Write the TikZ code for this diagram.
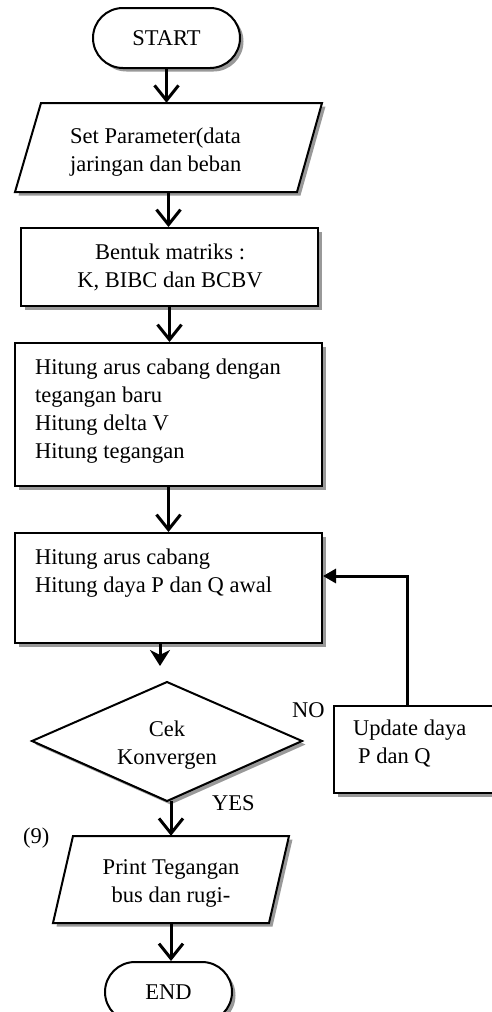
\documentclass[tikz,border=0pt]{standalone}
\usepackage{fontspec}
\setmainfont{Liberation Serif}
\usetikzlibrary{arrows.meta}
\begin{document}
\begin{tikzpicture}[x=1pt,y=-1pt,
  font=\fontsize{22.5}{28}\selectfont,
  shad/.style={preaction={fill=black!40,transform canvas={xshift=3.5pt,yshift=-3.5pt}}},
  box/.style={draw,line width=2pt,fill=white,shad,inner sep=0pt,rectangle},
  term/.style={box,rounded corners=30pt},
  shapeline/.style={draw,line width=2pt,fill=white,shad},
  ghost/.style={inner sep=0pt,rectangle},
  txt/.style={inner sep=0pt},
  arr/.style={line width=3pt,-{Straight Barb[length=15pt,width=24pt,line width=3pt]}},
  arrfill/.style={line width=3pt,-{Stealth[length=16pt,width=20pt,inset=5pt]}},
  fb/.style={line width=3pt,-{Triangle[length=13pt,width=14pt]}}
]
\useasboundingbox (0,0) rectangle (492,1012);

% START
\node[term,minimum width=147pt,minimum height=60pt] (start) at (166.5,38) {START};

% Input parallelogram
\path[shapeline] (41,103) -- (322,103) -- (297,192) -- (15,192) -- cycle;
\node[ghost,minimum width=282pt,minimum height=89pt] (p1) at (168.5,147.5) {};
\node[txt,anchor=base west] (p1t) at (70,143)
  {\begin{tabular}[t]{@{}l@{}}Set Parameter(data\\jaringan dan beban\end{tabular}};

% Bentuk matriks
\node[box,minimum width=297pt,minimum height=78pt] (r1) at (169.5,267) {};
\node[txt,anchor=base] (r1t) at (170,259)
  {\begin{tabular}[t]{@{}c@{}}Bentuk matriks :\\K, BIBC dan BCBV\end{tabular}};

% Hitung arus cabang dengan tegangan baru
\node[box,minimum width=307pt,minimum height=143pt] (r2) at (168.5,414.5) {};
\node[txt,anchor=base west] (r2t) at (35,374)
  {\begin{tabular}[t]{@{}l@{}}Hitung arus cabang dengan\\tegangan baru\\Hitung delta V\\Hitung tegangan\end{tabular}};

% Hitung arus cabang / daya
\node[box,minimum width=307pt,minimum height=110pt] (r3) at (168.5,588) {};
\node[txt,anchor=base west] (r3t) at (35,564)
  {\begin{tabular}[t]{@{}l@{}}Hitung arus cabang\\Hitung daya P dan Q awal\end{tabular}};

% Decision
\path[shapeline] (32,741) -- (167,682) -- (302,741) -- (167,801) -- cycle;
\node[ghost,minimum width=270pt,minimum height=119pt] (dia) at (167,741.5) {};
\node[txt,anchor=base] (diat) at (167,736)
  {\begin{tabular}[t]{@{}c@{}}Cek\\Konvergen\end{tabular}};

% Update box (runs past right edge)
\node[box,minimum width=200pt,minimum height=87pt,anchor=north west] (upd) at (333,705) {};
\node[txt,anchor=base west] (updt) at (353,735)
  {\begin{tabular}[t]{@{}l@{}}Update daya\\\hspace*{5pt}P dan Q\end{tabular}};

% Labels
\node[txt,anchor=base west] (no) at (292,717) {NO};
\node[txt,anchor=base west] (yes) at (212,810) {YES};
\node[txt,anchor=base west] (nine) at (23,843) {(9)};

% Output parallelogram
\path[shapeline] (73,836) -- (289,836) -- (269,923) -- (53,923) -- cycle;
\node[ghost,minimum width=216pt,minimum height=87pt] (p2) at (171,879.5) {};
\node[txt,anchor=base] (p2t) at (171,874)
  {\begin{tabular}[t]{@{}c@{}}Print Tegangan\\bus dan rugi-\end{tabular}};

% END
\node[term,minimum width=127pt,minimum height=60pt] (end) at (168.5,992) {END};

% Connectors
\draw[arr] (start.south) -- (start.south |- p1.north);
\draw[arr] (p1.south) -- (p1.south |- r1.north);
\draw[arr] (r1.south) -- (r1.south |- r2.north);
\draw[arr] (r2.south) -- (r2.south |- r3.north);
\coordinate (tipA) at (160,666);
\draw[arrfill] (r3.south -| tipA) -- (tipA);
\draw[arr] (dia.south -| p2.north) -- (p2.north);
\draw[arr] (p2.south) -- (p2.south |- end.north);
\coordinate (fbx) at (407,576);
\draw[fb] (upd.north -| fbx) -- (fbx) -- (fbx -| r3.east);
\end{tikzpicture}
\end{document}
